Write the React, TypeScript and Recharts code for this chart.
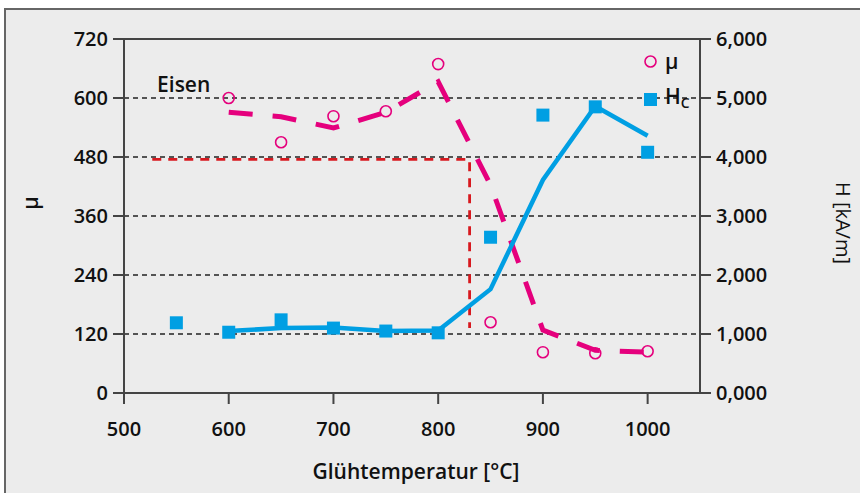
import React from 'react';
import {
  ComposedChart, Line, Scatter, XAxis, YAxis, CartesianGrid, ReferenceLine, ReferenceDot,
} from 'recharts';

// Glühtemperatur [°C]
const temps = [550, 600, 650, 700, 750, 800, 850, 900, 950, 1000];
const muTemps = [600, 650, 700, 750, 800, 850, 900, 950, 1000];

// µ measured (circles) and the dashed trend
const muPoints = [600, 510, 563, 573, 669, 144, 83, 81, 85];
const muTrend = [571, 562, 539, 571, 633, 423, 128, 87, 83];

// Hc [kA/m] measured (squares) and the solid trend
const hcPoints = [1.19, 1.03, 1.24, 1.1, 1.05, 1.02, 2.64, 4.71, 4.85, 4.08];
const hcTrendTemps = [600, 650, 700, 750, 800, 850, 900, 950, 1000];
const hcTrend = [1.05, 1.1, 1.11, 1.05, 1.06, 1.76, 3.61, 4.86, 4.36];

// red helper lines (µ = 480 -> ~830 °C)
const markerTemps = [527, 830, 830];
const markerMu = [475, 475, 132];

const xTicks = [500, 600, 700, 800, 900, 1000];
const muTicks = [0, 120, 240, 360, 480, 600, 720];
const hcTicks = [0, 1, 2, 3, 4, 5, 6];

const FONT = '"Open Sans", "Noto Sans", sans-serif';
const AXIS = '#444';
const BLUE = '#009fe3';
const MAGENTA = '#e5007d';
const RED = '#d7191f';

const muScatter = muTemps.map((t, i) => ({ t, v: muPoints[i] }));
const muLine = muTemps.map((t, i) => ({ t, v: muTrend[i] }));
const hcScatter = temps.map((t, i) => ({ t, v: hcPoints[i] }));
const hcLine = hcTrendTemps.map((t, i) => ({ t, v: hcTrend[i] }));
const marker = markerTemps.map((t, i) => ({ t, v: markerMu[i] }));

const tickStyle = { fill: '#111', fontSize: 20, fontWeight: 600, fontFamily: FONT };

const Circle = (p: any) => (
  <circle cx={p.cx} cy={p.cy} r={5.5} fill="none" stroke={MAGENTA} strokeWidth={1.6} />
);
const Square = (p: any) => (
  <rect x={p.cx - 6.5} y={p.cy - 6.5} width={13} height={13} fill={BLUE} />
);

const fmtH = (v: number) => v.toFixed(3).replace('.', ',');

const title = { fontSize: 21, fontWeight: 600, color: '#111', whiteSpace: 'nowrap' as const };

export default function App() {
  return (
    <div style={{ position: 'absolute', left: 0, top: 0, width: 860, height: 493, background: '#fff', overflow: 'hidden', fontFamily: FONT }}>
      <div style={{ position: 'absolute', left: 4, top: 8, width: 900, height: 600, background: '#ececec', borderLeft: '2px solid #666', borderTop: '2px solid #666' }} />
      <div style={{ position: 'absolute', left: 0, top: 0 }}>
        <ComposedChart width={860} height={493} margin={{ top: 39, right: 80, bottom: 40, left: 64 }}>
          <CartesianGrid yAxisId="mu" horizontal vertical={false} stroke="#222" strokeDasharray="5 4" strokeWidth={1.5} />
          <XAxis
            dataKey="t" type="number" domain={[500, 1050]} ticks={xTicks} allowDataOverflow
            height={60} tickSize={11} tickMargin={18} tick={tickStyle}
            axisLine={{ stroke: AXIS, strokeWidth: 2 }} tickLine={{ stroke: AXIS, strokeWidth: 2 }}
          />
          <YAxis
            yAxisId="mu" dataKey="v" orientation="left" domain={[0, 720]} ticks={muTicks}
            width={60} tickSize={11} tickMargin={5} tick={tickStyle}
            axisLine={{ stroke: AXIS, strokeWidth: 2 }} tickLine={{ stroke: AXIS, strokeWidth: 2 }}
          />
          <YAxis
            yAxisId="hc" dataKey="v" orientation="right" domain={[0, 6]} ticks={hcTicks}
            tickFormatter={fmtH} width={80} tickSize={11} tickMargin={5} tick={tickStyle}
            axisLine={{ stroke: AXIS, strokeWidth: 2 }} tickLine={{ stroke: AXIS, strokeWidth: 2 }}
          />
          <ReferenceLine yAxisId="mu" y={720} stroke={AXIS} strokeWidth={2} />
          <ReferenceDot
            yAxisId="mu" x={557} y={628} r={1} fill="none" stroke="none"
            label={{ value: 'Eisen', position: 'center', fill: '#111', fontSize: 21, fontWeight: 600, fontFamily: FONT }}
          />
          <Line
            yAxisId="mu" data={marker} dataKey="v" type="linear" stroke={RED} strokeWidth={2.8}
            strokeDasharray="9 7" dot={false} isAnimationActive={false}
          />
          <Line
            yAxisId="mu" data={muLine} dataKey="v" type="linear" stroke={MAGENTA} strokeWidth={5}
            strokeDasharray="24 20" dot={false} isAnimationActive={false}
          />
          <Line
            yAxisId="hc" data={hcLine} dataKey="v" type="linear" stroke={BLUE} strokeWidth={4.5}
            dot={false} isAnimationActive={false}
          />
          <Scatter yAxisId="mu" data={muScatter} shape={Circle} isAnimationActive={false} />
          <Scatter yAxisId="hc" data={hcScatter} shape={Square} isAnimationActive={false} />
        </ComposedChart>
      </div>

      {/* legend */}
      <div style={{ position: 'absolute', left: 644, top: 48, ...title, lineHeight: '26px' }}>
        <div style={{ display: 'flex', alignItems: 'center', height: 26 }}>
          <svg width={13} height={13} style={{ marginRight: 8 }}>
            <circle cx={6.5} cy={6.5} r={5.5} fill="none" stroke={MAGENTA} strokeWidth={1.6} />
          </svg>
          <span>μ</span>
        </div>
        <div style={{ display: 'flex', alignItems: 'center', height: 26, marginTop: 12 }}>
          <svg width={13} height={13} style={{ marginRight: 8 }}>
            <rect x={0} y={0} width={13} height={13} fill={BLUE} />
          </svg>
          <span>H<sub style={{ fontSize: 14, verticalAlign: -4 }}>C</sub></span>
        </div>
      </div>

      {/* axis titles */}
      <div style={{ position: 'absolute', left: 30, top: 203, transform: 'translate(-50%, -50%) rotate(-90deg)', ...title }}>μ</div>
      <div style={{ position: 'absolute', left: 843, top: 223, transform: 'translate(-50%, -50%) rotate(90deg)', ...title, fontSize: 20, fontWeight: 500 }}>H [kA/m]</div>
      <div style={{ position: 'absolute', left: 416, top: 471, transform: 'translate(-50%, -50%)', ...title }}>Glühtemperatur [°C]</div>
    </div>
  );
}
